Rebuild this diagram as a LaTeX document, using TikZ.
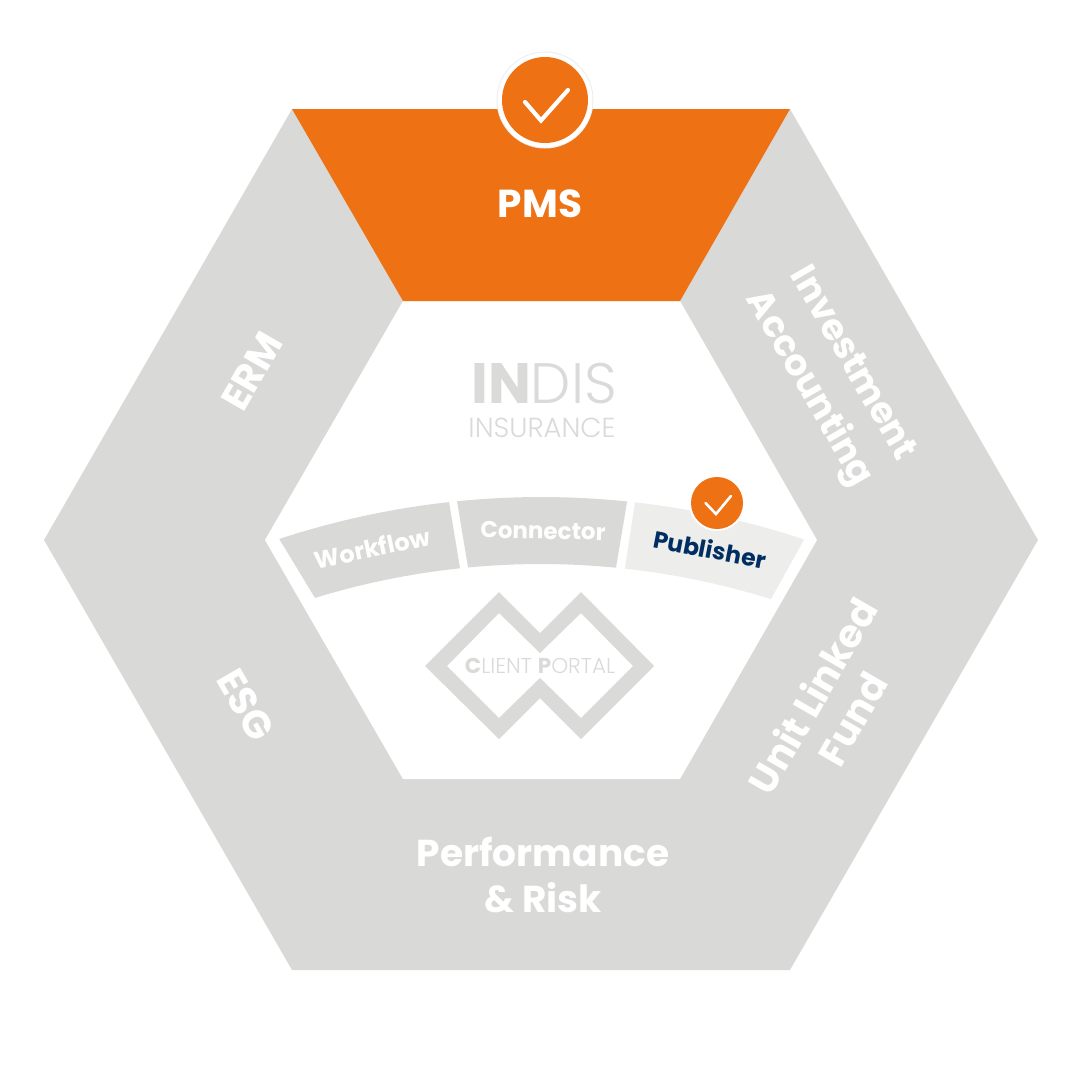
\documentclass[tikz,border=0pt]{standalone}
\usepackage{fontspec}
\setmainfont{Poppins}
\newfontfamily\poplight{Poppins Light}
\definecolor{hexgrey}{HTML}{D9D9D7}
\definecolor{hexorange}{HTML}{EE7214}
\definecolor{pubgrey}{HTML}{EDEDEB}
\definecolor{pubnavy}{HTML}{002D62}
\definecolor{logogrey}{HTML}{DADAD9}
\tikzset{
  segtext/.style={text=white,font=\bfseries\fontsize{39}{44}\selectfont,align=center,inner sep=0pt},
  bandtext/.style={text=white,inner sep=0pt},
  tick/.style={draw=white,line cap=round,line join=miter,fill=none}
}
\begin{document}
\begin{tikzpicture}[x=1pt,y=-1pt]
\useasboundingbox (0,0) rectangle (1080,1080);
% hexagon ring
\fill[hexgrey] (292,109) -- (790,109) -- (1038,540) -- (790,970) -- (292,970) -- (44,540) -- cycle;
\fill[white] (403,301) -- (680,301) -- (817,540) -- (680,779) -- (403,779) -- (265,540) -- cycle;
\fill[hexorange] (292,109) -- (790,109) -- (680,301) -- (403,301) -- cycle;
% top badge
\fill[white!93!black] (545,100) circle (48.5);
\fill[white] (545,100) circle (47.5);
\fill[hexorange] (545,100) circle (43);
\draw[tick,line width=4.2pt] (525,102) -- (541,120.5) -- (568,90);
% band segments
\fill[hexgrey] plot[domain=-18.2:-6.3,samples=30] ({541+838*sin(\x)},{1335-838*cos(\x)})
  -- plot[domain=-6.03:-17.05,samples=30] ({541+771*sin(\x)},{1335-771*cos(\x)}) -- cycle;
\fill[hexgrey] plot[domain=-5.75:5.9,samples=30] ({541+838*sin(\x)},{1335-838*cos(\x)})
  -- plot[domain=5.58:-5.43,samples=30] ({541+771*sin(\x)},{1335-771*cos(\x)}) -- cycle;
\fill[pubgrey] plot[domain=6.44:18.3,samples=30] ({541+838*sin(\x)},{1335-838*cos(\x)})
  -- plot[domain=17.35:6.25,samples=30] ({541+771*sin(\x)},{1335-771*cos(\x)}) -- cycle;
% small badge
\fill[white] (717,503) circle (28);
\fill[hexorange] (717,503) circle (26);
\draw[tick,line width=2.6pt] (705.5,503) -- (716,514) -- (731,496);
% logo
\fill[logogrey,even odd rule] (425,666) -- (499,592) -- (540,633) -- (581,592) -- (654,666) -- (581,739) -- (540,698) -- (499,739) -- cycle
  (447,666) -- (499,613) -- (540,653) -- (581,613) -- (633,666) -- (581,718) -- (540,678) -- (499,718) -- cycle;
\node[text=logogrey,inner sep=0pt,font=\fontsize{21.5}{24}\selectfont] (portal) at (540,666) {\textbf{C}{\poplight LIENT }\textbf{P}{\poplight ORTAL}};
\node[text=logogrey,inner sep=0pt,font=\fontsize{57}{60}\selectfont] (indis) at (544,384) {\textbf{IN}{\poplight DIS}};
\node[text=logogrey,inner sep=0pt,font=\poplight\fontsize{27.5}{30}\selectfont] (insurance) at (542,428) {INSURANCE};
% segment labels
\node[segtext] (pms) at (540,204) {PMS};
\node[segtext,font=\bfseries\fontsize{37.5}{46.5}\selectfont] (perf) at (543,875) {Performance\\\& Risk};
\node[segtext,rotate=60] (erm) at (252,371) {ERM};
\node[segtext,rotate=-60] (esg) at (246,705) {ESG};
\node[segtext,rotate=-60,font=\bfseries\fontsize{36.5}{50}\selectfont] (invest) at (829,377) {Investment\\Accounting};
\node[segtext,rotate=60,font=\bfseries\fontsize{38.5}{46}\selectfont] (unit) at (832,707) {Unit Linked\\Fund};
% band labels
\node[bandtext,rotate=12,font=\bfseries\fontsize{24}{28}\selectfont] (workflow) at (372,548) {Workflow};
\node[bandtext,rotate=-1,font=\bfseries\fontsize{23}{28}\selectfont] (connector) at (543,531) {Connector};
\node[bandtext,rotate=-11,text=pubnavy,font=\bfseries\fontsize{23.5}{28}\selectfont] (publisher) at (710,549) {Publisher};
\end{tikzpicture}
\end{document}
